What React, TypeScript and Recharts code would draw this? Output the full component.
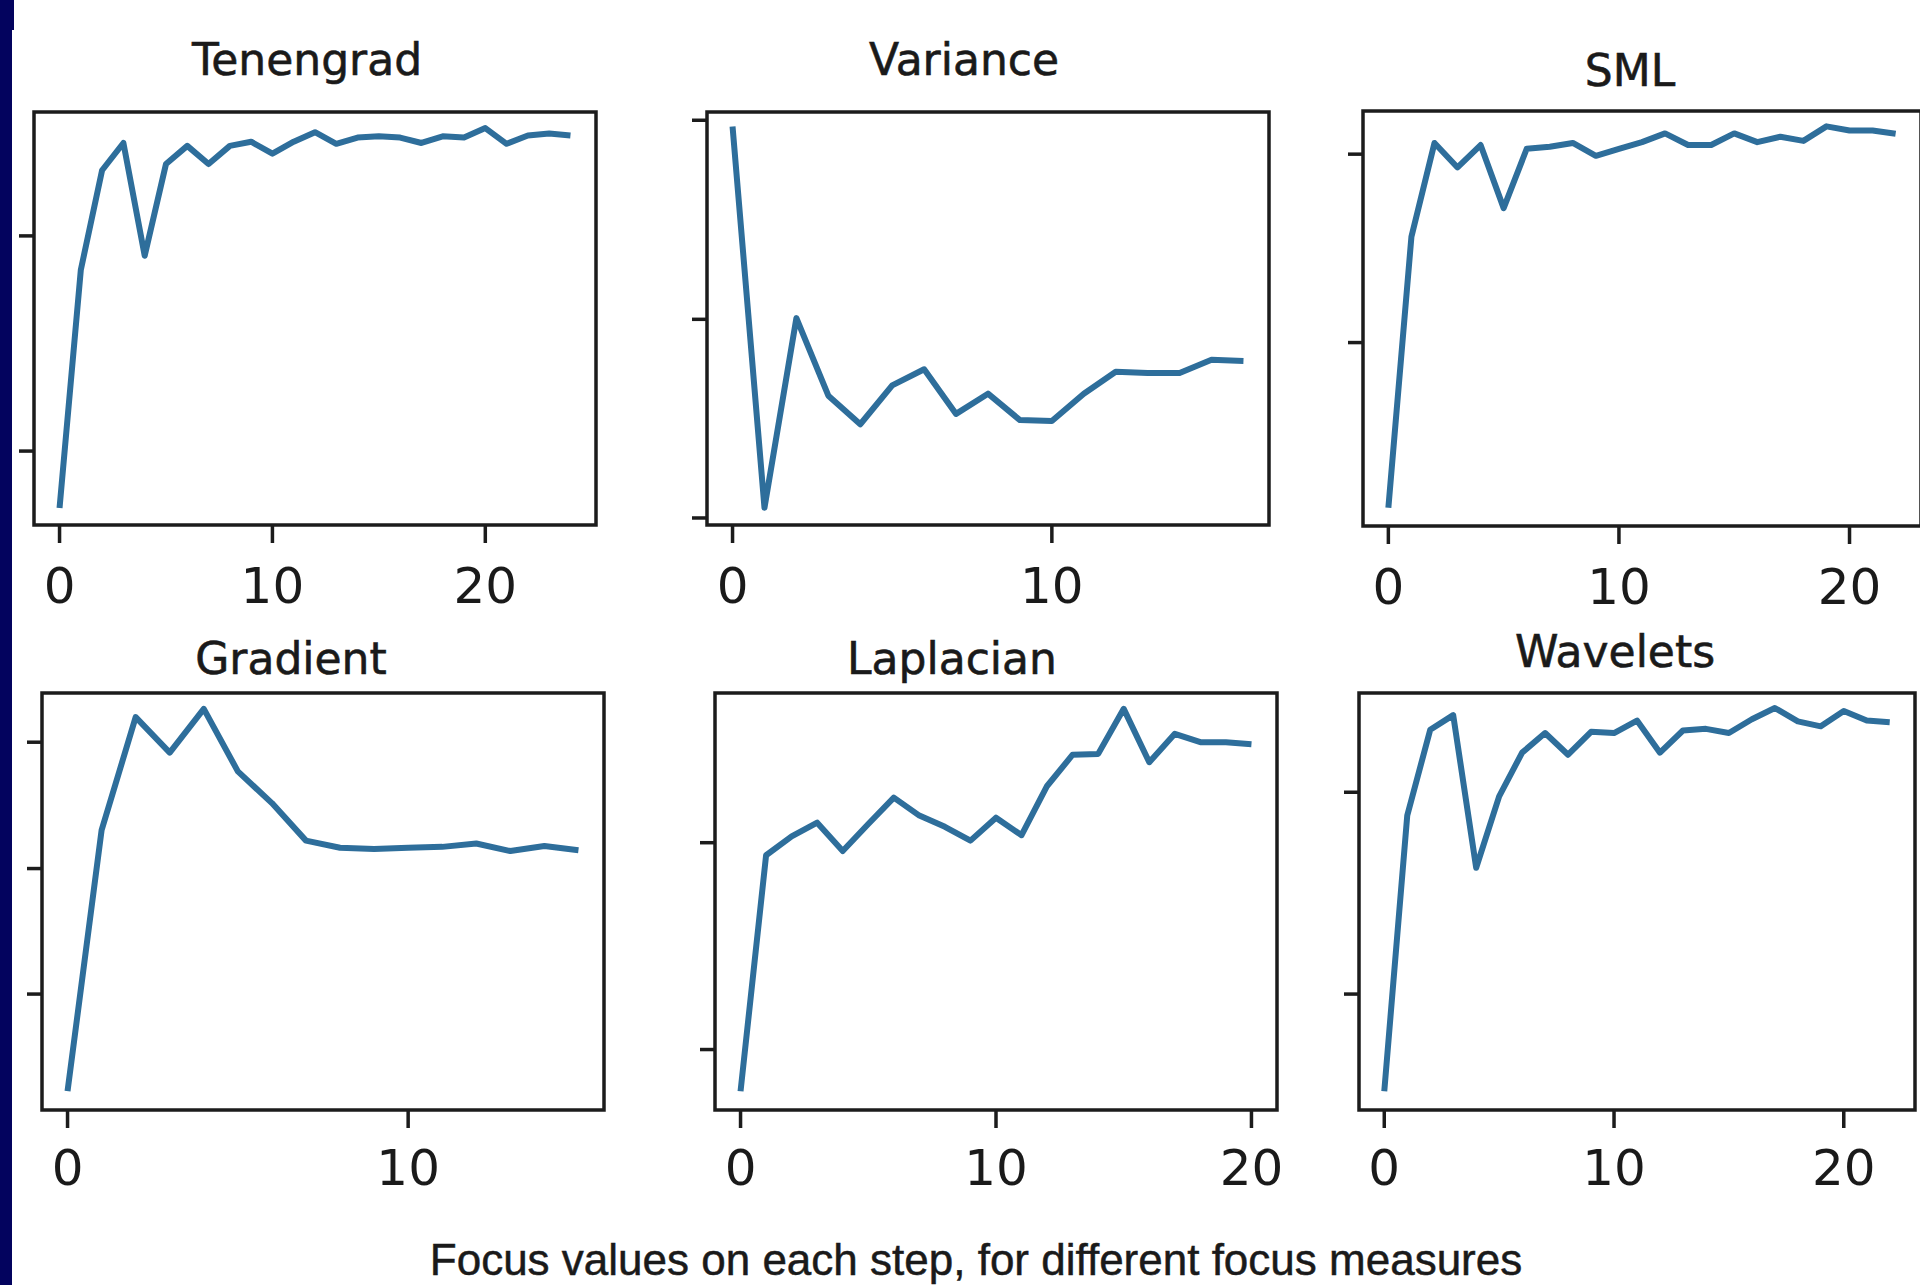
import React from 'react';
import { LineChart, Line, XAxis, YAxis, ReferenceArea } from 'recharts';

// ---- Data (in % of the axis height) ----
const tenengradValues = [4.1, 61.8, 85.9, 92.5, 65.2, 87.4, 91.8, 87.4, 91.8, 92.8, 89.9, 92.8, 95.1, 92.3, 93.8, 94.1, 93.8, 92.5, 94.1, 93.8, 96.1, 92.3, 94.3, 94.8, 94.3];
const varianceValues = [96.5, 4.2, 50.1, 31.3, 24.4, 33.8, 37.7, 26.9, 31.8, 25.4, 25.2, 31.8, 37.1, 36.8, 36.8, 40.0, 39.7];
const smlValues = [4.4, 69.7, 92.3, 86.4, 91.8, 76.6, 90.9, 91.4, 92.3, 89.2, 90.9, 92.5, 94.6, 91.8, 91.8, 94.6, 92.5, 93.8, 92.8, 96.3, 95.3, 95.3, 94.5];
const gradientValues = [4.5, 67.1, 94.2, 85.7, 96.2, 81.2, 73.6, 64.6, 62.9, 62.6, 62.9, 63.1, 63.9, 62.1, 63.3, 62.3];
const laplacianValues = [4.5, 61.1, 65.6, 68.9, 62.1, 68.6, 74.9, 70.6, 67.9, 64.6, 70.1, 65.9, 77.7, 85.2, 85.4, 96.2, 83.4, 90.2, 88.2, 88.2, 87.7];
const waveletsValues = [4.5, 70.6, 91.2, 94.7, 58.1, 75.2, 85.7, 90.4, 85.2, 90.7, 90.4, 93.4, 85.7, 91.0, 91.4, 90.4, 93.7, 96.4, 93.2, 92.0, 95.7, 93.4, 93.0];

// ---- Tick values ----
const tenengradYTicks = [17.9, 70.0];
const varianceYTicks = [1.7, 49.8, 98.0];
const smlYTicks = [44.2, 89.6];
const gradientYTicks = [27.8, 57.9, 88.2];
const laplacianYTicks = [14.5, 64.1];
const waveletsYTicks = [27.8, 76.2];

const xTicksTo20 = [0, 10, 20];
const xTicksTo10 = [0, 10];

const titles = ['Tenengrad', 'Variance', 'SML', 'Gradient', 'Laplacian', 'Wavelets'];
const caption = 'Focus values on each step, for different focus measures';

// ---- Layout (frame box in page pixels, title position) ----
type Panel = {
  title: string;
  values: number[];
  yTicks: number[];
  xTicks: number[];
  L: number; R: number; T: number; B: number;
  tx: number; ty: number;
  tickMargin: number;
};

const panels: Panel[] = [
  { title: titles[0], values: tenengradValues, yTicks: tenengradYTicks, xTicks: xTicksTo20, L: 34, R: 596, T: 112, B: 525, tx: 307, ty: 75, tickMargin: 24 },
  { title: titles[1], values: varianceValues, yTicks: varianceYTicks, xTicks: xTicksTo10, L: 707, R: 1269, T: 112, B: 525, tx: 964, ty: 75, tickMargin: 24 },
  { title: titles[2], values: smlValues, yTicks: smlYTicks, xTicks: xTicksTo20, L: 1363, R: 1921, T: 111, B: 526, tx: 1630, ty: 86, tickMargin: 24 },
  { title: titles[3], values: gradientValues, yTicks: gradientYTicks, xTicks: xTicksTo10, L: 42, R: 604, T: 693, B: 1110, tx: 291, ty: 674, tickMargin: 21 },
  { title: titles[4], values: laplacianValues, yTicks: laplacianYTicks, xTicks: xTicksTo20, L: 715, R: 1277, T: 693, B: 1110, tx: 952, ty: 674, tickMargin: 21 },
  { title: titles[5], values: waveletsValues, yTicks: waveletsYTicks, xTicks: xTicksTo20, L: 1359, R: 1915, T: 693, B: 1110, tx: 1615, ty: 667, tickMargin: 21 },
];

const LINE_COLOR = '#2e6e9b';
const FRAME_COLOR = '#1c1c1c';
const FONT = '"DejaVu Sans", sans-serif';

const PAD_L = 30;
const PAD_T = 10;
const PAD_R = 10;
const PAD_B = 90;

function PanelChart({ p }: { p: Panel }) {
  const n = p.values.length - 1;
  const d0 = -0.05 * n;
  const d1 = n * 1.05;
  const data = p.values.map((v, i) => ({ x: i, v }));
  const w = p.R - p.L + PAD_L + PAD_R;
  const h = p.B - p.T + PAD_T + PAD_B;
  return (
    <div style={{ position: 'absolute', left: p.L - PAD_L, top: p.T - PAD_T, width: w, height: h }}>
      <LineChart width={w} height={h} data={data} margin={{ top: PAD_T, right: PAD_R, left: 0, bottom: 0 }}>
        <XAxis
          type="number"
          dataKey="x"
          domain={[d0, d1]}
          ticks={p.xTicks}
          interval={0}
          allowDataOverflow
          height={PAD_B}
          axisLine={false}
          tickSize={18}
          tickMargin={p.tickMargin}
          tickLine={{ stroke: FRAME_COLOR, strokeWidth: 3.5 }}
          tick={{ fill: '#1a1a1a', fontSize: 50, fontFamily: FONT }}
        />
        <YAxis
          type="number"
          domain={[0, 100]}
          ticks={p.yTicks}
          interval={0}
          allowDataOverflow
          width={PAD_L}
          axisLine={false}
          tickSize={15}
          tickLine={{ stroke: FRAME_COLOR, strokeWidth: 3.5 }}
          tickFormatter={() => ''}
        />
        <ReferenceArea
          x1={d0}
          x2={d1}
          y1={0}
          y2={100}
          fill="#ffffff"
          fillOpacity={0}
          stroke={FRAME_COLOR}
          strokeWidth={3.5}
          ifOverflow="visible"
        />
        <Line
          type="linear"
          dataKey="v"
          stroke={LINE_COLOR}
          strokeWidth={6}
          strokeLinejoin="round"
          dot={false}
          activeDot={false}
          isAnimationActive={false}
        />
      </LineChart>
    </div>
  );
}

export default function App() {
  return (
    <div style={{ position: 'fixed', left: 0, top: 0, width: 1920, height: 1285, overflow: 'hidden', background: '#ffffff' }}>
      <div style={{ position: 'absolute', left: 0, top: 0, width: 12, height: 1285, background: '#03035e' }} />
      <div style={{ position: 'absolute', left: 0, top: 0, width: 14, height: 30, background: '#03035e' }} />
      {panels.map((p) => (
        <PanelChart key={p.title} p={p} />
      ))}
      <svg width={1920} height={1285} style={{ position: 'absolute', left: 0, top: 0, pointerEvents: 'none' }}>
        {panels.map((p) => (
          <text key={p.title} x={p.tx} y={p.ty} textAnchor="middle" fontFamily={FONT} fontSize={44} fill="#1a1a1a" stroke="#1a1a1a" strokeWidth={0.6}>
            {p.title}
          </text>
        ))}
        <text x={976} y={1275} textAnchor="middle" fontFamily='"Liberation Sans", Arial, sans-serif' fontSize={44} fill="#1a1a1a" stroke="#1a1a1a" strokeWidth={0.5}>
          {caption}
        </text>
      </svg>
    </div>
  );
}
